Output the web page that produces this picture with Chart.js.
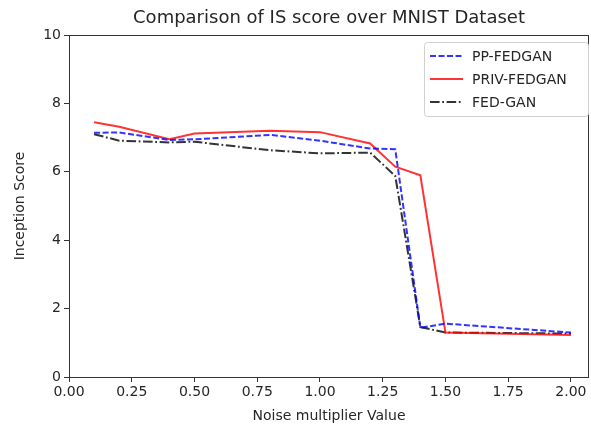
<!DOCTYPE html>
<html>
<head>
<meta charset="utf-8">
<script src="https://cdn.jsdelivr.net/npm/chart.js@4"></script>
<style>
  html, body { margin: 0; padding: 0; background: #fff; }
  #wrap { width: 591px; height: 427px; }
</style>
</head>
<body>
<div id="wrap"><canvas id="isChart" width="591" height="427"></canvas></div>
<script>
// noise multiplier values
const noiseValues = [0.1, 0.2, 0.4, 0.5, 0.8, 1.0, 1.2, 1.3, 1.4, 1.5, 2.0];
const ppFedgan   = [7.14, 7.15, 6.93, 6.95, 7.08, 6.91, 6.68, 6.66, 1.44, 1.56, 1.30];
const privFedgan = [7.45, 7.32, 6.95, 7.12, 7.20, 7.16, 6.83, 6.15, 5.90, 1.30, 1.23];
const fedGan     = [7.10, 6.91, 6.86, 6.88, 6.63, 6.54, 6.56, 5.88, 1.46, 1.30, 1.27];
const xTicks = [0, 0.25, 0.5, 0.75, 1.0, 1.25, 1.5, 1.75, 2.0];
const yTicks = [0, 2, 4, 6, 8, 10];

const FONT = "'DejaVu Sans', sans-serif";
const TEXT = '#262626';

function toPoints(ys) {
    return noiseValues.map(function (x, i) { return { x: x, y: ys[i] }; });
}

const series = [
    { label: 'PP-FEDGAN', data: ppFedgan, color: 'rgba(0,0,255,0.8)', dash: [6, 2.5] },
    { label: 'PRIV-FEDGAN', data: privFedgan, color: 'rgba(255,0,0,0.8)', dash: [] },
    { label: 'FED-GAN', data: fedGan, color: 'rgba(0,0,0,0.8)', dash: [9.6, 2.6, 1.8, 2.6] }
];

// frame, title and in-plot legend, drawn matplotlib style
const decorations = {
    id: 'decorations',
    afterDraw(chart) {
        const ctx = chart.ctx;
        const a = chart.chartArea;
        ctx.save();
        ctx.strokeStyle = '#333';
        ctx.lineWidth = 1;
        ctx.strokeRect(a.left + 0.5, a.top + 0.5, a.right - a.left - 1, a.bottom - a.top);

        ctx.fillStyle = TEXT;
        ctx.font = '18px ' + FONT;
        ctx.textAlign = 'center';
        ctx.textBaseline = 'middle';
        ctx.fillText('Comparison of IS score over MNIST Dataset', (a.left + a.right) / 2, 18);

        // legend box
        const lx = 424, ly = 42, lw = 164, lh = 74;
        ctx.beginPath();
        ctx.roundRect(lx + 0.5, ly + 0.5, lw, lh, 3);
        ctx.fillStyle = 'rgba(255,255,255,0.8)';
        ctx.fill();
        ctx.strokeStyle = '#d0d0d0';
        ctx.stroke();

        ctx.font = '14px ' + FONT;
        ctx.textAlign = 'left';
        series.forEach(function (s, i) {
            const y = 56 + i * 23;
            ctx.beginPath();
            ctx.setLineDash(s.dash);
            ctx.strokeStyle = s.color;
            ctx.lineWidth = 2;
            ctx.moveTo(430, y);
            ctx.lineTo(463, y);
            ctx.stroke();
            ctx.setLineDash([]);
            ctx.fillStyle = TEXT;
            ctx.fillText(s.label, 472, y + 1);
        });
        ctx.restore();
    }
};

const chart = new Chart(document.getElementById('isChart'), {
    type: 'line',
    data: {
        datasets: series.map(function (s) {
            return {
                label: s.label,
                data: toPoints(s.data),
                borderColor: s.color,
                backgroundColor: s.color,
                borderDash: s.dash,
                borderWidth: 2,
                pointRadius: 0,
                tension: 0,
                fill: false
            };
        })
    },
    options: {
        responsive: false,
        animation: false,
        layout: { padding: { top: 35, right: 2, left: 0, bottom: 0 } },
        plugins: {
            legend: { display: false },
            title: { display: false },
            tooltip: { enabled: false }
        },
        scales: {
            x: {
                type: 'linear',
                min: 0,
                max: 2.072,
                afterBuildTicks: function (axis) {
                    axis.ticks = xTicks.map(function (v) { return { value: v }; });
                },
                afterFit: function (axis) { axis.height = 50; },
                grid: { drawOnChartArea: false, tickLength: 5, color: '#333' },
                border: { display: false },
                ticks: {
                    color: TEXT,
                    font: { family: FONT, size: 14 },
                    padding: 2,
                    maxRotation: 0,
                    callback: function (v) { return v.toFixed(2); }
                },
                title: {
                    display: true,
                    text: 'Noise multiplier Value',
                    color: TEXT,
                    font: { family: FONT, size: 14 },
                    padding: { top: 0, bottom: 2 }
                }
            },
            y: {
                type: 'linear',
                min: 0,
                max: 10,
                afterBuildTicks: function (axis) {
                    axis.ticks = yTicks.map(function (v) { return { value: v }; });
                },
                afterFit: function (axis) { axis.width = 69; },
                grid: { drawOnChartArea: false, tickLength: 5, color: '#333' },
                border: { display: false },
                ticks: {
                    color: TEXT,
                    font: { family: FONT, size: 14 },
                    padding: 3
                },
                title: {
                    display: true,
                    text: 'Inception Score',
                    color: TEXT,
                    font: { family: FONT, size: 14 },
                    padding: { top: 12, bottom: 0 }
                }
            }
        }
    },
    plugins: [decorations]
});
</script>
</body>
</html>
